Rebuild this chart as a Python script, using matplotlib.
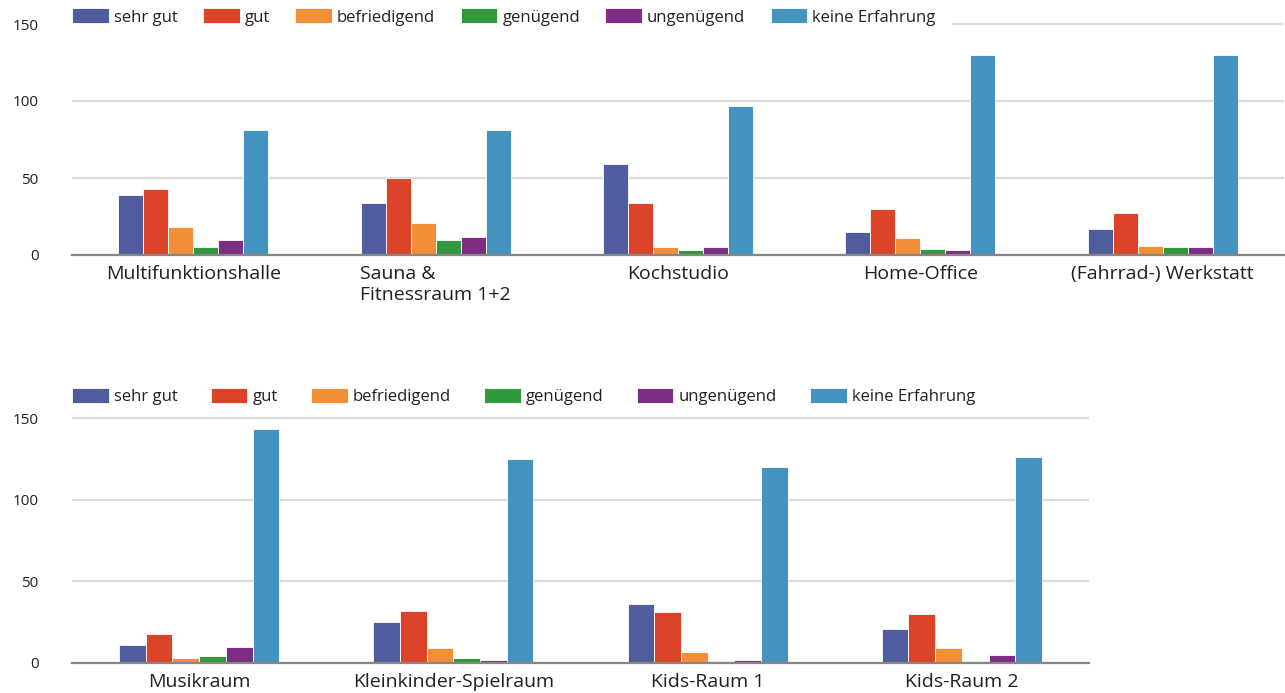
import numpy as np
import matplotlib.pyplot as plt

plt.rcParams['font.family'] = ['Open Sans', 'DejaVu Sans']

series = ["sehr gut", "gut", "befriedigend", "genügend", "ungenügend", "keine Erfahrung"]
colors = ["#4f5c9e", "#db4428", "#f29037", "#32983f", "#7e2d84", "#4494bf"]

# obere Grafik
rooms_top = ["Multifunktionshalle", "Sauna &\nFitnessraum 1+2", "Kochstudio",
             "Home-Office", "(Fahrrad-) Werkstatt"]
sehr_gut_top = [39, 34, 59, 15, 17]
gut_top = [43, 50, 34, 30, 27]
befriedigend_top = [18, 21, 5, 11, 6]
genuegend_top = [5, 10, 3, 4, 5]
ungenuegend_top = [10, 12, 5, 3, 5]
keine_top = [81, 81, 97, 130, 130]

# untere Grafik
rooms_bottom = ["Musikraum", "Kleinkinder-Spielraum", "Kids-Raum 1", "Kids-Raum 2"]
sehr_gut_bottom = [11, 25, 36, 21]
gut_bottom = [18, 32, 31, 30]
befriedigend_bottom = [3, 9, 7, 9]
genuegend_bottom = [4.5, 3, 1, 1.5]
ungenuegend_bottom = [10, 2, 2, 5]
keine_bottom = [143, 125, 120, 126]

top_values = [sehr_gut_top, gut_top, befriedigend_top, genuegend_top, ungenuegend_top, keine_top]
bottom_values = [sehr_gut_bottom, gut_bottom, befriedigend_bottom, genuegend_bottom,
                 ungenuegend_bottom, keine_bottom]

W, H = 1285, 693
fig = plt.figure(figsize=(W / 100, H / 100), dpi=100)


def draw(rect, rooms, values, colspace, legend_y, bpad, bw=0.103):
    ax = fig.add_axes(rect)
    x = np.arange(len(rooms))
    for i, (name, vals, c) in enumerate(zip(series, values, colors)):
        ax.bar(x + (i - 2.5) * bw, vals, bw, color=c, edgecolor="white",
               linewidth=0.6, label=name, zorder=3)
    ax.set_xlim(-0.5, len(rooms) - 0.5)
    ax.set_ylim(0, 153)
    ax.set_yticks([0, 50, 100, 150])
    ax.yaxis.grid(True, color="#dddada", linewidth=1.6, zorder=0)
    ax.set_axisbelow(True)
    for s in ["top", "right", "left"]:
        ax.spines[s].set_visible(False)
    ax.spines["bottom"].set_color("#8a8585")
    ax.spines["bottom"].set_linewidth(1.6)
    ax.spines["bottom"].set_zorder(4)
    ax.tick_params(axis="y", length=0, pad=24, labelsize=11, labelcolor="#231f20")
    ax.tick_params(axis="x", length=0, pad=7, labelsize=14, labelcolor="#231f20")
    ax.set_xticks(x)
    ax.set_xticklabels(rooms, linespacing=1.25, multialignment="left")
    fs = 12 * 100 / 72
    off = bpad * fs / (rect[2] * W)
    leg = ax.legend(loc="center left", bbox_to_anchor=(-off, legend_y), ncol=6,
                    frameon=True, fancybox=False, edgecolor="white", facecolor="white",
                    framealpha=1, fontsize=12, handlelength=2.2, handleheight=1.0,
                    handletextpad=0.3, columnspacing=colspace, borderpad=bpad,
                    borderaxespad=0)
    for t in leg.get_texts():
        t.set_color("#231f20")
    return ax


def frac(px_left, px_right, px_top, px_bottom):
    return [px_left / W, 1 - px_bottom / H, (px_right - px_left) / W, (px_bottom - px_top) / H]


# 0 bei y=255 px, 150 bei y=24 px
draw(frac(72, 1284, 255 - 153 * 231 / 150, 255), rooms_top, top_values, 1.53, 1.01, 0.9)
# 0 bei y=663 px, 150 bei y=418 px
draw(frac(72, 1089, 663 - 153 * 245 / 150, 663), rooms_bottom, bottom_values, 2.0, 1.065, 0.3,
     bw=0.105)

fig.savefig("out.png", dpi=100, facecolor="white")
